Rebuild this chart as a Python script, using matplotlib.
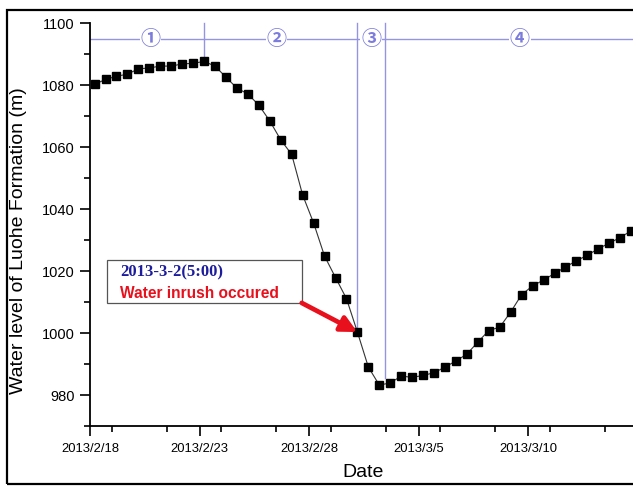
import pandas as pd
import matplotlib
matplotlib.use("Agg")
import matplotlib.pyplot as plt
import matplotlib.dates as mdates
from matplotlib.ticker import MultipleLocator, FuncFormatter
from matplotlib.patches import Rectangle

# water level readings, every 12 h starting 2013-02-18 05:00
level = [1080.2, 1081.8, 1082.8, 1083.5, 1085.2, 1085.5, 1086.1, 1086.1, 1086.8, 1087.0,
         1087.6, 1086.1, 1082.5, 1079.0, 1077.1, 1073.5, 1068.4, 1062.3, 1057.6, 1044.5,
         1035.5, 1024.8, 1017.9, 1011.1, 1000.3, 989.0, 983.2, 983.9, 986.1, 985.7,
         986.3, 987.2, 989.0, 991.0, 993.2, 997.1, 1000.8, 1001.9, 1006.8, 1012.4,
         1015.2, 1017.1, 1019.2, 1021.3, 1023.3, 1025.1, 1027.2, 1029.0, 1030.8, 1033.0]
times = pd.date_range("2013-02-18 05:00", periods=len(level), freq="12h")

phase_labels = ["①", "②", "③", "④"]
phase_label_at = pd.to_datetime(["2013-02-20 18:00", "2013-02-26 12:40",
                                 "2013-03-02 20:00", "2013-03-09 15:00"])
# vertical boundary lines: (time, lower end of line)
boundaries = [(pd.Timestamp("2013-02-23 05:00"), 1089.0),
              (pd.Timestamp("2013-03-02 05:00"), 1002.0),
              (pd.Timestamp("2013-03-03 11:00"), 985.5)]
inrush_time = pd.Timestamp("2013-03-02 05:00")
inrush_level = 1000.3
note_date = "2013-3-2(5:00)"
note_text = "Water inrush occured"

purple = "#9494e4"
fig = plt.figure(figsize=(6.33, 4.86), dpi=100)
ax = fig.add_axes([90 / 633, 60 / 486, 543 / 633, 403 / 486])

ax.plot(times, level, color="#333333", lw=0.8, marker="s", ms=5.4,
        mfc="black", mec="black", zorder=5)

x0 = mdates.date2num(pd.Timestamp("2013-02-18"))
ax.set_xlim(x0, x0 + 24.79)
ax.set_ylim(970, 1100)

# phase guides
ax.plot([x0, x0 + 30], [1095, 1095], color=purple, lw=1.0, zorder=2)
for t, yb in boundaries:
    ax.plot([t, t], [1100, yb], color=purple, lw=1.0, zorder=2, clip_on=False)
for lab, t in zip(phase_labels, phase_label_at):
    ax.text(t, 1095, lab, ha="center", va="center", fontsize=14.5, color="#7c7cdc",
            family=["Noto Sans CJK SC", "DejaVu Sans"], fontweight="bold", zorder=3,
            bbox=dict(facecolor="white", edgecolor="none", pad=0.5))

# annotation box
bx0 = x0 + 0.763
bx1 = x0 + 9.667
ax.add_patch(Rectangle((bx0, 1009.7), bx1 - bx0, 1023.5 - 1009.7, facecolor="white",
                       edgecolor="#555555", lw=0.9, zorder=6))
ax.text(x0 + 1.37, 1019.4, note_date, color="#1c1c9c", fontsize=12, fontweight="bold",
        family="Liberation Serif", va="center", ha="left", zorder=7)
ax.text(x0 + 1.37, 1012.9, note_text, color="#e8101c", fontsize=11.2, fontweight="bold",
        family="Liberation Sans", va="center", ha="left", zorder=7)
ax.annotate("", xy=(mdates.date2num(inrush_time), inrush_level), xytext=(bx1, 1009.7),
            arrowprops=dict(arrowstyle="-|>", color="#e8101c", lw=3.4, mutation_scale=24,
                            shrinkA=0, shrinkB=0), zorder=8)

ax.spines["top"].set_visible(False)
ax.spines["right"].set_visible(False)
ax.spines["left"].set_linewidth(1.3)
ax.spines["bottom"].set_linewidth(1.3)

ax.yaxis.set_minor_locator(MultipleLocator(10))
ax.set_yticks([980, 1000, 1020, 1040, 1060, 1080, 1100])
ax.xaxis.set_minor_locator(MultipleLocator(2.5))
ax.set_xticks([x0 + 5 * i for i in range(5)])
ax.xaxis.set_major_formatter(FuncFormatter(
    lambda v, p: "{0.year}/{0.month}/{0.day}".format(mdates.num2date(v))))

ax.tick_params(axis="both", which="major", direction="out", length=7, width=1.2)
ax.tick_params(axis="both", which="minor", direction="out", length=4, width=1.2)
ax.tick_params(axis="y", labelsize=10.5, pad=4)
ax.tick_params(axis="x", labelsize=9.4, pad=5)
for lab in ax.get_xticklabels() + ax.get_yticklabels():
    lab.set_family("Liberation Sans")

ax.set_ylabel("Water level of Luohe Formation (m)", fontsize=14, family="Liberation Sans")
ax.set_xlabel("Date", fontsize=14, family="Liberation Sans")
ax.yaxis.set_label_coords(-0.116, 0.46)
ax.xaxis.set_label_coords(0.503, -0.094)

# outer frame
fig.patches.append(Rectangle((7 / 633, 2 / 486), 1.0, 474 / 486, transform=fig.transFigure,
                             fill=False, edgecolor="black", lw=1.6))

fig.savefig("out.png", dpi=100)
